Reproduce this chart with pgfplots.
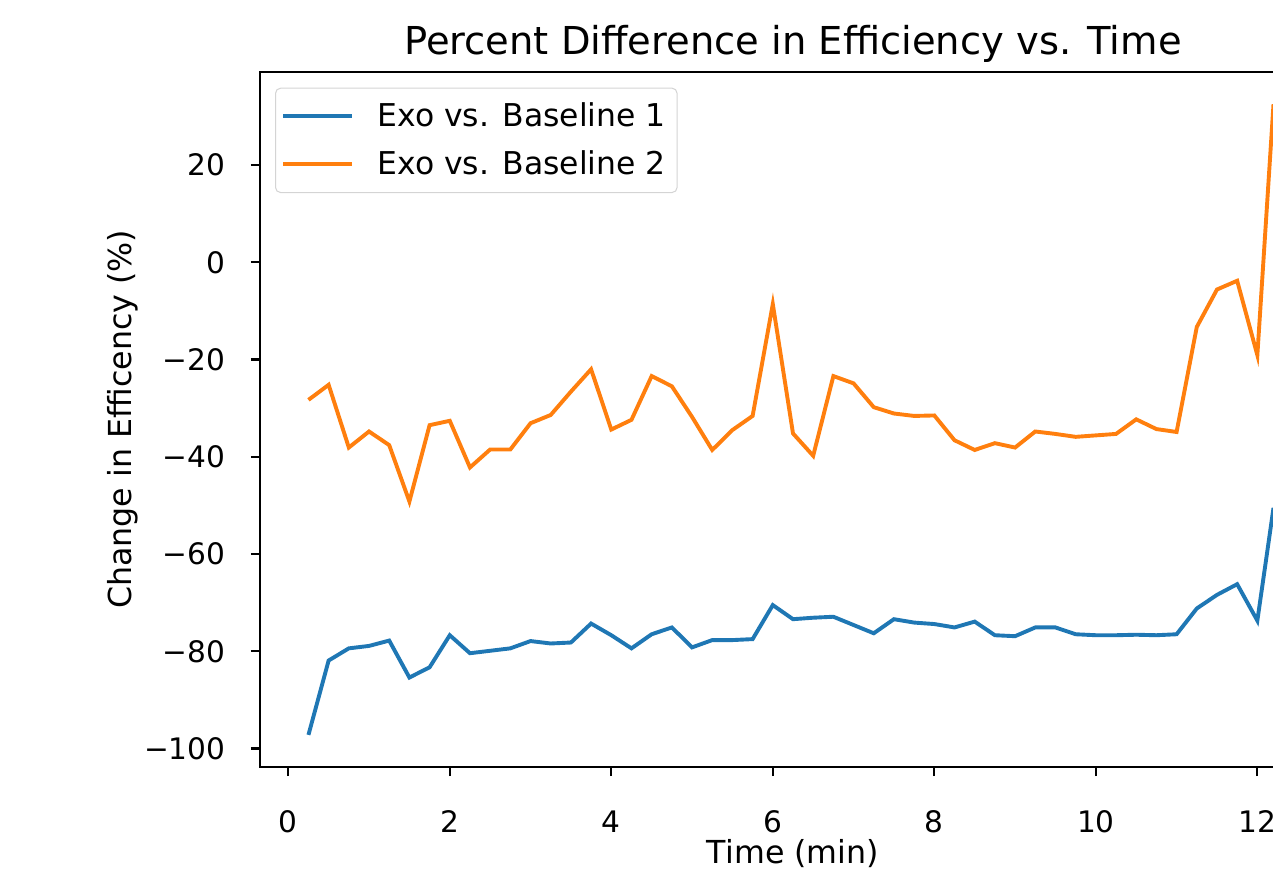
\documentclass[border=0pt]{standalone}
\usepackage{fontspec}
\setmainfont{DejaVu Sans}
\usepackage{pgfplots}
\pgfplotsset{compat=1.18}
\newdimen\px \px=0.385pt
\definecolor{mplblue}{HTML}{1F77B4}
\definecolor{mplorange}{HTML}{FF7F0E}
\definecolor{legframe}{HTML}{D4D4D4}

\begin{document}
\begin{tikzpicture}
\clip (0,0) rectangle (1273\px,869\px);
\useasboundingbox (0,0) rectangle (1273\px,869\px);
\begin{axis}[
  at={(260\px,102\px)}, anchor=south west,
  scale only axis, width=1066\px, height=695.3\px,
  xmin=-0.35, xmax=12.85, ymin=-103.8, ymax=39.2,
  axis line style={line width=0.8pt},
  tick align=outside, tick pos=left,
  major tick length=3.5pt,
  every tick/.style={black, line width=0.8pt},
  xtick={0,2,4,6,8,10,12},
  xticklabels={0,2,4,6,8,10,12},
  ytick={-100,-80,-60,-40,-20,0,20},
  yticklabels={−100,−80,−60,−40,−20,0,20},
  tick label style={font=\fontsize{11.4}{14}\selectfont, inner sep=0pt},
  xticklabel style={anchor=north, yshift=-34\px},
  yticklabel style={anchor=east, xshift=-25\px},
  title={Percent Difference in Efficiency vs. Time},
  every axis title/.style={at={(axis description cs:0.5,1.0245)}, anchor=base,
               font=\fontsize{14.8}{17}\selectfont},
  xlabel={Time (min)},
  xlabel style={at={(axis description cs:0.5,-0.1385)}, anchor=base,
                font=\fontsize{12.2}{14}\selectfont},
  ylabel={Change in Efficency (\%)},
  ylabel style={at={(axis description cs:-0.1201,0.5)}, anchor=base,
                font=\fontsize{12.2}{14}\selectfont},
  legend cell align=left,
  legend image code/.code={\draw[#1] (0pt,0pt) -- (69\px,0pt);},
  legend style={at={(axis description cs:0.0141,0.977)}, anchor=north west,
                draw=legframe, rounded corners=5\px, fill=white,
                font=\fontsize{12.1}{14}\selectfont,
                inner xsep=6\px, inner ysep=9\px, row sep=10\px,
                /tikz/every odd column/.append style={column sep=18\px}},
]

\addplot[mplblue, line width=1.5pt] coordinates {
  (0.25,-97.2) (0.5,-81.9) (0.75,-79.4) (1.0,-78.9) (1.25,-77.8)
  (1.5,-85.4) (1.75,-83.3) (2.0,-76.7) (2.25,-80.4) (2.5,-79.9)
  (2.75,-79.4) (3.0,-77.9) (3.25,-78.4) (3.5,-78.2) (3.75,-74.3)
  (4.0,-76.7) (4.25,-79.4) (4.5,-76.5) (4.75,-75.1) (5.0,-79.2)
  (5.25,-77.7) (5.5,-77.7) (5.75,-77.5) (6.0,-70.5) (6.25,-73.4)
  (6.5,-73.1) (6.75,-72.9) (7.0,-74.6) (7.25,-76.3) (7.5,-73.4)
  (7.75,-74.1) (8.0,-74.4) (8.25,-75.1) (8.5,-73.9) (8.75,-76.7)
  (9.0,-76.9) (9.25,-75.1) (9.5,-75.1) (9.75,-76.5) (10.0,-76.7)
  (10.25,-76.7) (10.5,-76.6) (10.75,-76.7) (11.0,-76.5) (11.25,-71.2)
  (11.5,-68.4) (11.75,-66.2) (12.0,-73.7) (12.2,-50.5)
};
\addlegendentry{Exo vs. Baseline 1}

\addplot[mplorange, line width=1.5pt] coordinates {
  (0.25,-28.3) (0.5,-25.2) (0.75,-38.1) (1.0,-34.8) (1.25,-37.6)
  (1.5,-49.2) (1.75,-33.5) (2.0,-32.6) (2.25,-42.2) (2.5,-38.5)
  (2.75,-38.5) (3.0,-33.1) (3.25,-31.4) (3.5,-26.6) (3.75,-22.0)
  (4.0,-34.4) (4.25,-32.4) (4.5,-23.4) (4.75,-25.5) (5.0,-31.8)
  (5.25,-38.6) (5.5,-34.5) (5.75,-31.6) (6.0,-8.6) (6.25,-35.2)
  (6.5,-39.8) (6.75,-23.4) (7.0,-24.9) (7.25,-29.8) (7.5,-31.1)
  (7.75,-31.6) (8.0,-31.5) (8.25,-36.6) (8.5,-38.6) (8.75,-37.2)
  (9.0,-38.1) (9.25,-34.8) (9.5,-35.3) (9.75,-35.9) (10.0,-35.6)
  (10.25,-35.3) (10.5,-32.3) (10.75,-34.3) (11.0,-34.9) (11.25,-13.3)
  (11.5,-5.6) (11.75,-3.8) (12.0,-19.1) (12.2,32.5)
};
\addlegendentry{Exo vs. Baseline 2}
\end{axis}
\end{tikzpicture}
\end{document}
